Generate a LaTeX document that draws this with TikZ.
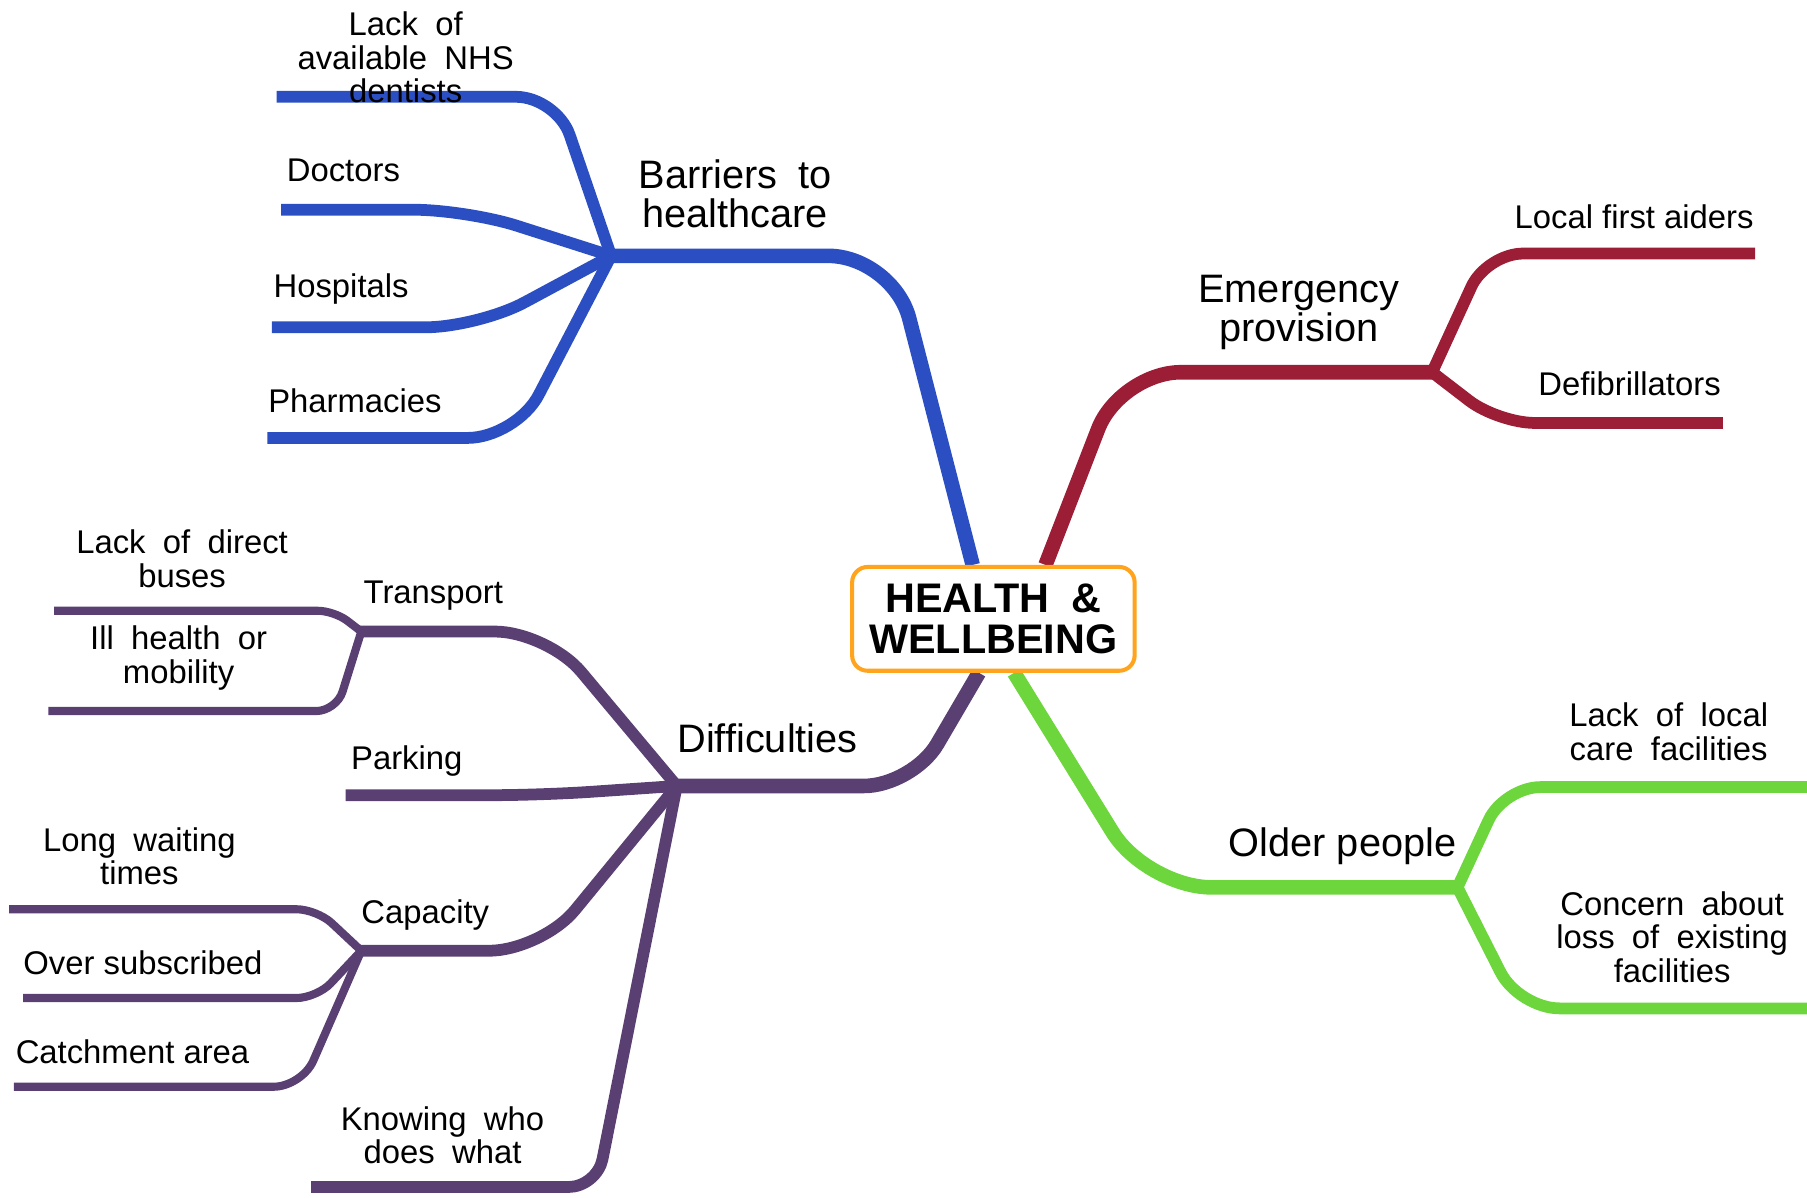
\documentclass[tikz,border=0pt]{standalone}
\usepackage{fontspec}
\setmainfont{Liberation Sans}
\newfontfamily\widesf[WordSpace=1.9]{Liberation Sans}
\usetikzlibrary{backgrounds}

\definecolor{barblue}{RGB}{43,79,194}
\definecolor{emred}{RGB}{156,29,54}
\definecolor{oldgreen}{RGB}{108,214,60}
\definecolor{difpurple}{RGB}{90,63,115}
\definecolor{boxorange}{RGB}{255,164,28}

\begin{document}
\begin{tikzpicture}[x=0.01cm, y=-0.01cm,
	lbl/.style={font=\fontsize{8.1}{8.3}\selectfont, inner sep=0pt},
	wlbl/.style={font=\fontsize{8.1}{8.3}\selectfont\widesf, align=center, inner sep=0pt},
	head/.style={font=\fontsize{9.8}{9.7}\selectfont\widesf, align=center, inner sep=0pt},
	centre/.style={draw=boxorange, line width=1pt, rounded corners=3.8pt, fill=white,
		minimum width=2.45cm, minimum height=0.9cm, align=center,
		font=\fontsize{10.2}{10.3}\selectfont\bfseries\widesf},
	trunk/.style={line width=3.6pt},
	twig/.style={line width=2.9pt},
	leaf/.style={line width=2pt}]
	\useasboundingbox (0,0) rectangle (1568,1039);

	\node[centre] (hw) at (862,537) {HEALTH \&\\WELLBEING};

	% hubs
	\coordinate (bar) at (525,222);
	\coordinate (em) at (1248,323);
	\coordinate (old) at (1270,770);
	\coordinate (dif) at (582,682);
	\coordinate (trn) at (310,548);
	\coordinate (capy) at (310,825);

	% free ends
	\coordinate (dent) at (240,84);
	\coordinate (doc) at (244,182);
	\coordinate (hosp) at (236,284);
	\coordinate (pharm) at (232,380);
	\coordinate (aid) at (1523,220);
	\coordinate (defib) at (1495,367);
	\coordinate (care) at (1568,683);
	\coordinate (loss) at (1568,875);
	\coordinate (bus) at (47,530);
	\coordinate (ill) at (42,617);
	\coordinate (park) at (300,690);
	\coordinate (wait) at (8,789);
	\coordinate (over) at (20,866);
	\coordinate (catch) at (12,943);
	\coordinate (know) at (270,1030);

	\begin{scope}[on background layer]
		% barriers
		\draw[barblue, trunk, rounded corners=16pt] (hw.111) -- (775,222) -- (bar);
		\draw[barblue, twig, rounded corners=10pt] ([xshift=1.5pt]bar) -- (483,84) -- (dent);
		\draw[barblue, twig, rounded corners=13pt] ([xshift=1.5pt]bar) -- (405,182) -- (doc);
		\draw[barblue, twig, rounded corners=13pt] ([xshift=1.5pt]bar) -- (415,284) -- (hosp);
		\draw[barblue, twig, rounded corners=12pt] ([xshift=1.5pt]bar) -- (448,380) -- (pharm);
		% emergency
		\draw[emred, trunk, rounded corners=15pt] (hw.46) -- (972,323) -- (em);
		\draw[emred, twig, rounded corners=9pt] ([xshift=-1.5pt]em) -- (1290,220) -- (aid);
		\draw[emred, twig, rounded corners=9pt] ([xshift=-1.5pt]em) -- (1300,367) -- (defib);
		% older people
		\draw[oldgreen, trunk, rounded corners=16pt] (hw.291) -- (995,770) -- (old);
		\draw[oldgreen, twig, rounded corners=9pt] ([xshift=-1.5pt]old) -- (1305,683) -- (care);
		\draw[oldgreen, twig, rounded corners=10pt] ([xshift=-1.5pt]old) -- (1318,875) -- (loss);
		% difficulties
		\draw[difpurple, trunk, rounded corners=12pt] (hw.255) -- (792,682) -- (dif);
		\draw[difpurple, twig, rounded corners=13pt] ([xshift=1.5pt]dif) -- (475,548) -- (trn);
		\draw[difpurple, leaf, rounded corners=4pt] ([xshift=1pt]trn) -- (290,530) -- (bus);
		\draw[difpurple, leaf, rounded corners=5pt] ([xshift=1pt]trn) -- (292,617) -- (ill);
		\draw[difpurple, twig, rounded corners=12pt] ([xshift=1.5pt]dif) -- (470,690) -- (park);
		\draw[difpurple, twig, rounded corners=13pt] ([xshift=1.5pt]dif) -- (470,825) -- (capy);
		\draw[difpurple, leaf, rounded corners=5pt] ([xshift=1pt]capy) -- (275,789) -- (wait);
		\draw[difpurple, leaf, rounded corners=5pt] ([xshift=1pt]capy) -- (275,866) -- (over);
		\draw[difpurple, leaf, rounded corners=7pt] ([xshift=1pt]capy) -- (262,943) -- (catch);
		\draw[difpurple, twig, rounded corners=7pt] ([xshift=1.5pt]dif) -- (518,1030) -- (know);
	\end{scope}

	% labels
	\node[head] (tbar) at (638,168) {Barriers to\\healthcare};
	\node[wlbl] (tdent) at (352,50) {Lack of\\available NHS\\dentists};
	\node[lbl] (tdoc) at (298,148) {Doctors};
	\node[lbl] (thosp) at (296,251) {Hospitals};
	\node[lbl] (tpharm) at (308,348) {Pharmacies};
	\node[head] (tem) at (1127,271) {Emergency\\provision};
	\node[lbl] (taid) at (1418,188) {Local first aiders};
	\node[lbl] (tdefib) at (1414,333) {Defibrillators};
	\node[head, font=\fontsize{9.8}{9.7}\selectfont] (told) at (1165,734) {Older people};
	\node[wlbl] (tcare) at (1448,635) {Lack of local\\care facilities};
	\node[wlbl] (tloss) at (1451,813) {Concern about\\loss of existing\\facilities};
	\node[head] (tdif) at (666,641) {Difficulties};
	\node[lbl] (ttrn) at (376,517) {Transport};
	\node[wlbl] (tbus) at (158,485) {Lack of direct\\buses};
	\node[wlbl] (till) at (155,571) {Ill health or\\mobility};
	\node[lbl] (tpark) at (353,660) {Parking};
	\node[lbl] (tcap) at (369,794) {Capacity};
	\node[wlbl] (twait) at (121,743) {Long waiting\\times};
	\node[lbl] (tover) at (124,835) {Over subscribed};
	\node[lbl] (tcatch) at (115,913) {Catchment area};
	\node[wlbl] (tknow) at (384,985) {Knowing who\\does what};
\end{tikzpicture}
\end{document}
